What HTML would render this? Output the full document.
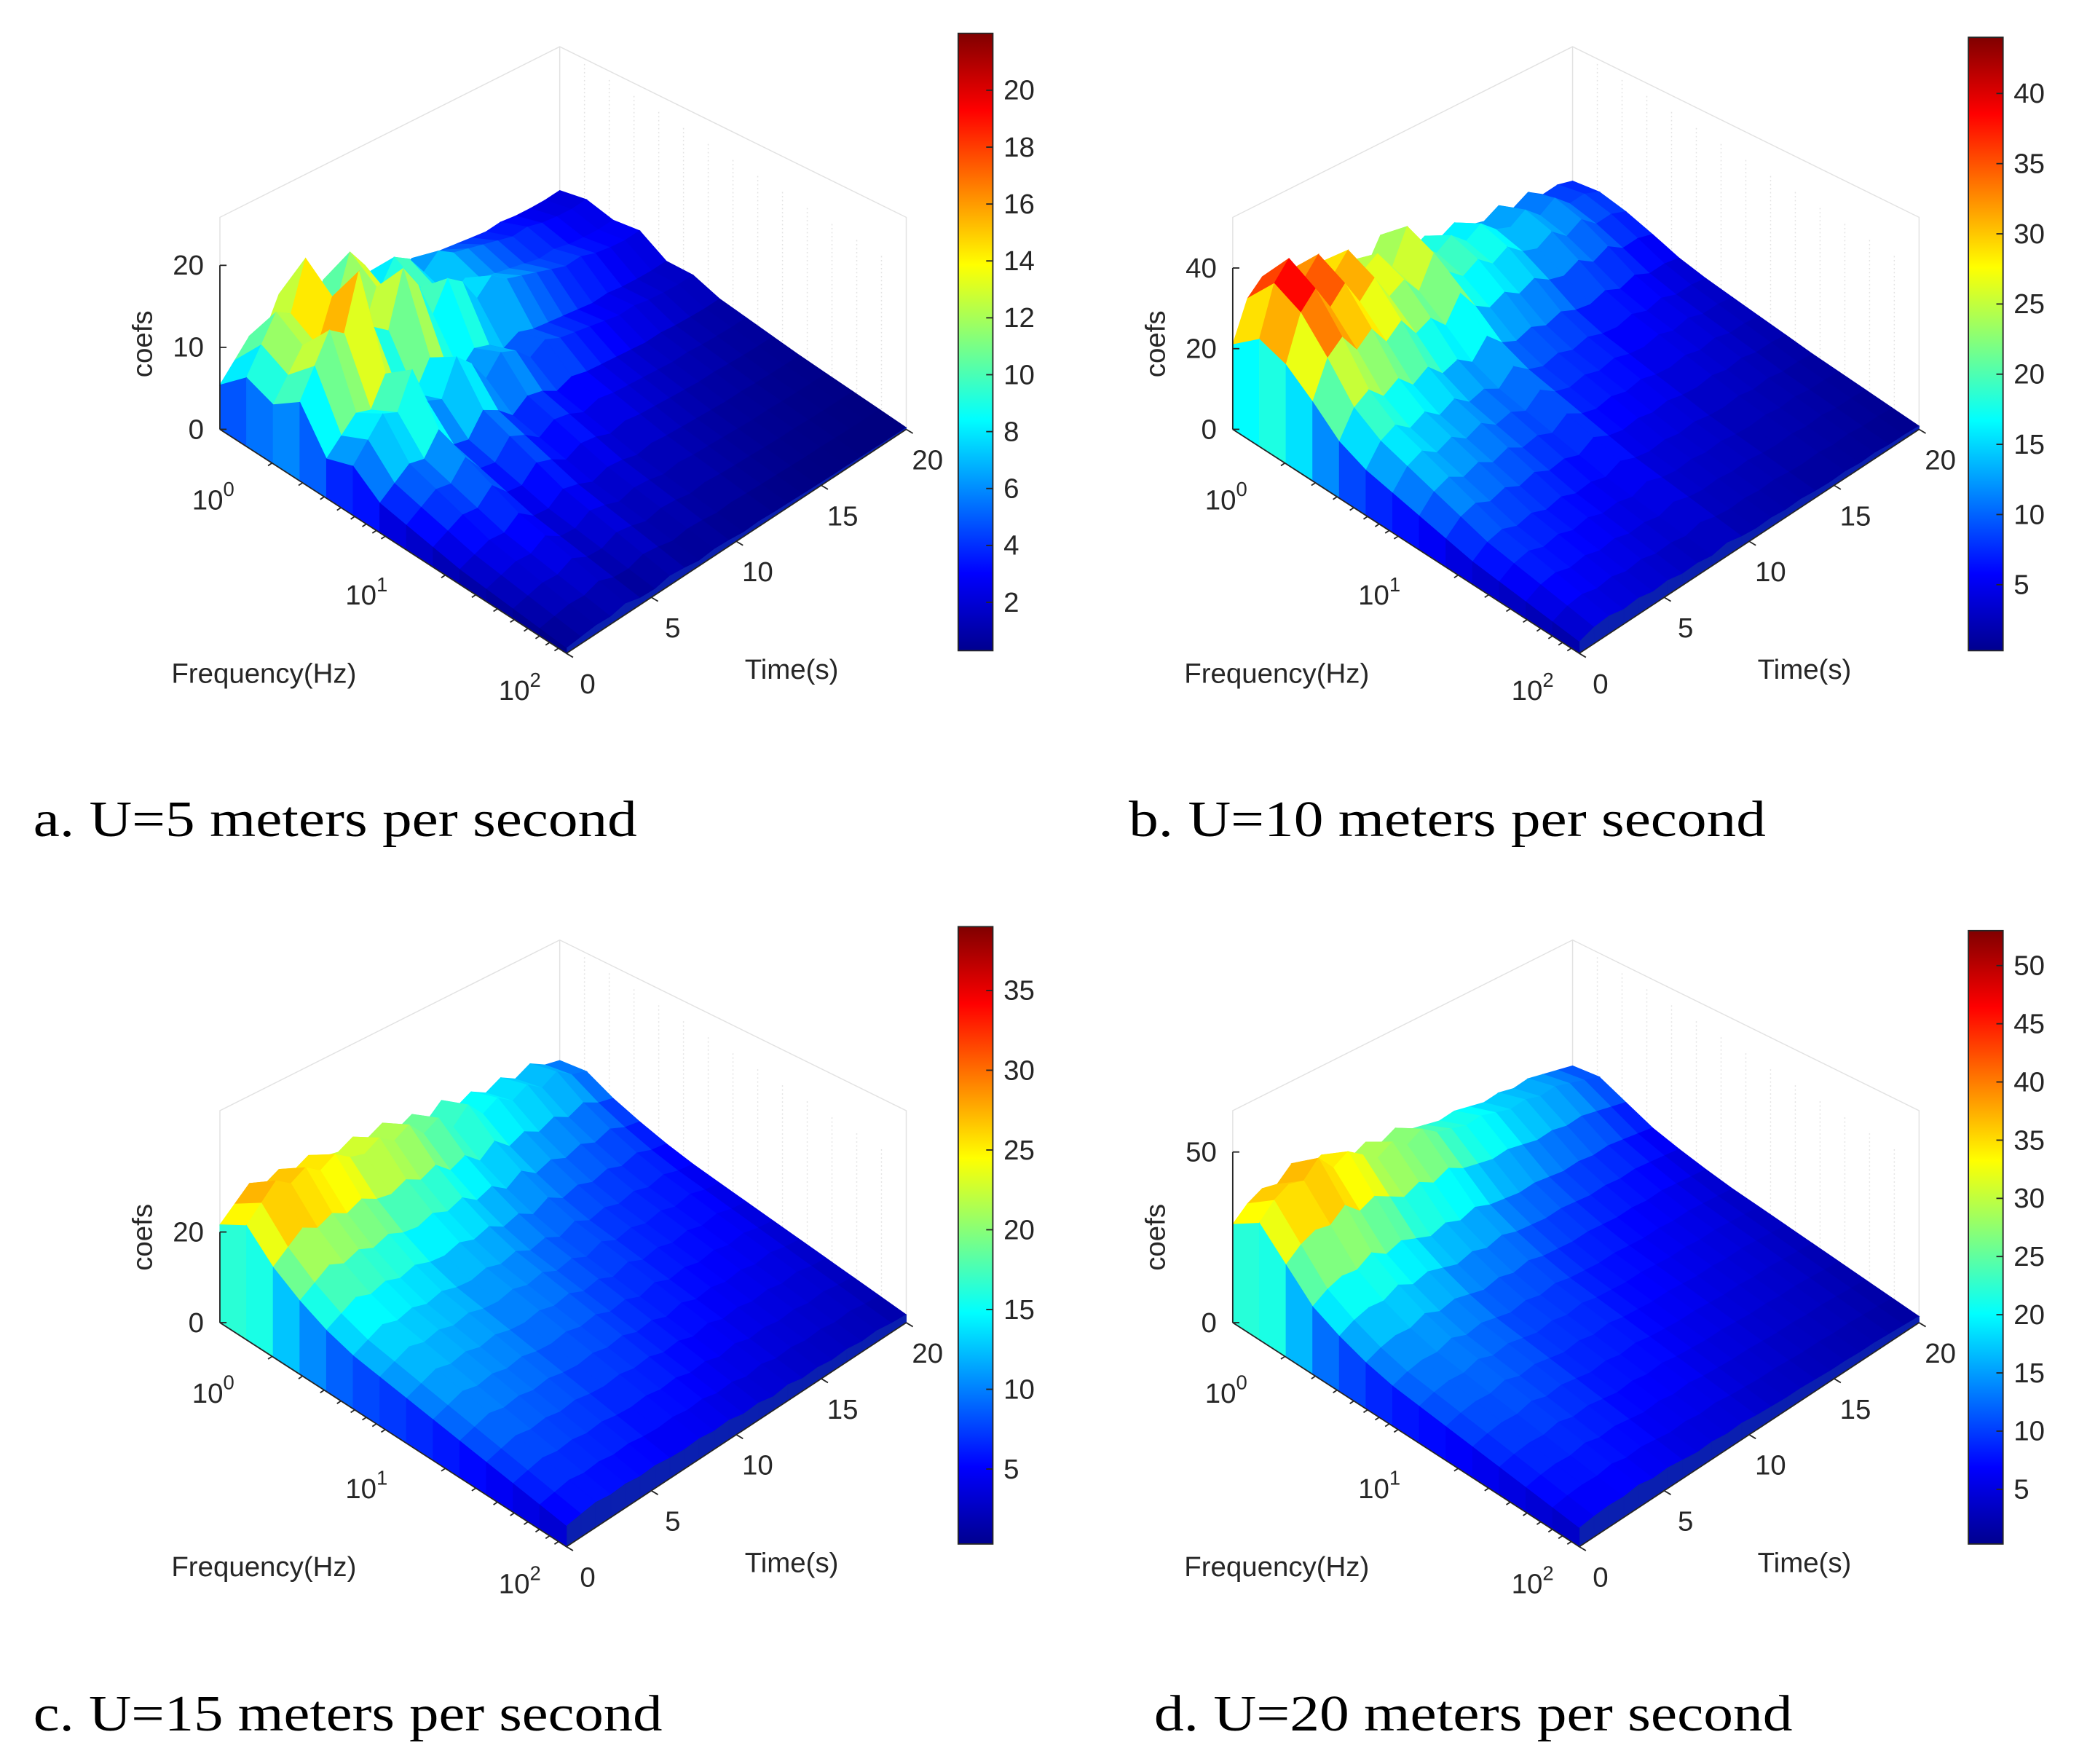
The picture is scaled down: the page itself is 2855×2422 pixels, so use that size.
<!DOCTYPE html>
<html><head><meta charset="utf-8"><style>
html,body{margin:0;padding:0;background:#fff;}
svg{display:block;}
</style></head><body>
<svg id="fig" xmlns="http://www.w3.org/2000/svg" width="2855" height="2422" viewBox="0 0 1560 1323" preserveAspectRatio="none">
<rect width="1560" height="1323" fill="#fff"/>
<defs>
<linearGradient id="jet" x1="0" y1="1" x2="0" y2="0">
<stop offset="0" stop-color="#00008f"/><stop offset="0.125" stop-color="#0000ff"/><stop offset="0.375" stop-color="#00ffff"/><stop offset="0.625" stop-color="#ffff00"/><stop offset="0.875" stop-color="#ff0000"/><stop offset="1" stop-color="#800000"/>
</linearGradient>
</defs>
<g id="panels"></g>
<text x="25" y="627" font-family="Liberation Serif, serif" font-size="38" textLength="453" lengthAdjust="spacingAndGlyphs">a. U=5 meters per second</text>
<text x="847" y="627" font-family="Liberation Serif, serif" font-size="38" textLength="478" lengthAdjust="spacingAndGlyphs">b. U=10 meters per second</text>
<text x="25" y="1298" font-family="Liberation Serif, serif" font-size="38" textLength="472" lengthAdjust="spacingAndGlyphs">c. U=15 meters per second</text>
<text x="866" y="1298" font-family="Liberation Serif, serif" font-size="38" textLength="479" lengthAdjust="spacingAndGlyphs">d. U=20 meters per second</text>
</svg>
<script>
const freqA=[9,14,12,16,8,10,6,5,4,3,2.5,2,1.5,1];
const timeA=[0.6,0.8,1.0,0.9,1.3,0.8,0.7,1.1,0.9,0.6,0.8,0.7,0.5,0.6,0.5,0.45,0.4,0.35,0.3,0.3,0.25,0.22,0.2,0.2];
const freqB=[30,38,35,28,20,16,14,12,10,8,7,6,5,4];
const timeB=[0.7,1.0,1.1,0.9,1.0,0.8,0.9,0.7,0.75,0.6,0.8,0.6,0.5,0.55,0.45,0.5,0.4,0.35,0.4,0.3,0.35,0.25,0.25,0.2];
const freqC=[24,28,22,18,15,13,12,11,10,9,8,7,6,5];
const timeC=[0.9,1.0,1.1,1.0,1.05,0.95,1.0,0.9,0.85,0.9,0.8,0.85,0.7,0.75,0.6,0.7,0.55,0.6,0.5,0.55,0.45,0.5,0.4,0.35];
const freqD=[32,38,30,22,18,15,13,12,11,10,9,8,7,6];
const timeD=[0.9,1.0,1.05,1.0,1.1,0.95,1.0,0.9,0.8,0.85,0.75,0.8,0.7,0.65,0.6,0.6,0.55,0.5,0.5,0.45,0.45,0.4,0.35,0.3];
const zTicksA=[0,10,20], zTicksB=[0,20,40], zTicksC=[0,20], zTicksD=[0,50];
const cbTicksA=[2,4,6,8,10,12,14,16,18,20];
const cbTicksB=[5,10,15,20,25,30,35,40];
const cbTicksC=[5,10,15,20,25,30,35];
const cbTicksD=[5,10,15,20,25,30,35,40,45,50];
const timeTicks=[0,5,10,15,20];

const panels=[
 {id:'a',dx:0,dy:0,freq:freqA,time:timeA,zmax:20,zpx:123,cmin:0.3,cmax:22,zt:zTicksA,cb:cbTicksA,cbx:719,cbTop:25,cbBot:488},
 {id:'b',dx:760,dy:0,freq:freqB,time:timeB,zmax:40,zpx:121,cmin:0.3,cmax:44,zt:zTicksB,cb:cbTicksB,cbx:1477,cbTop:28,cbBot:488},
 {id:'c',dx:0,dy:670,freq:freqC,time:timeC,zmax:20,zpx:68,cmin:0.3,cmax:39,zt:zTicksC,cb:cbTicksC,cbx:719,cbTop:695,cbBot:1158},
 {id:'d',dx:760,dy:670,freq:freqD,time:timeD,zmax:50,zpx:128,cmin:0.3,cmax:53,zt:zTicksD,cb:cbTicksD,cbx:1477,cbTop:698,cbBot:1158}
];
const NS='http://www.w3.org/2000/svg';
const root=document.getElementById('panels');
function mk(tag,attrs,parent){const e=document.createElementNS(NS,tag);for(const k in attrs)e.setAttribute(k,attrs[k]);parent.appendChild(e);return e;}
function jet(t){t=Math.max(0,Math.min(1,t));
 const r=Math.max(0,Math.min(1,1.5-Math.abs(4*t-3))),g=Math.max(0,Math.min(1,1.5-Math.abs(4*t-2))),b=Math.max(0,Math.min(1,1.5-Math.abs(4*t-1)));
 return 'rgb('+Math.round(r*255)+','+Math.round(g*255)+','+Math.round(b*255)+')';}

panels.forEach(p=>{
 const g=mk('g',{transform:'translate('+p.dx+','+p.dy+')'},root);
 
 
 const L=[165,322], RF=[255,-168], FL=[260,168];
 const zs=p.zpx/p.zmax;
 const proj=(u,v,w)=>[L[0]+u*RF[0]+v*FL[0], L[1]+u*RF[1]+v*FL[1]-w*zs];
 const top=119;
 const B=proj(1,0,0), R=proj(1,1,0);
 const grid=mk('g',{stroke:'#e2e2e2','stroke-width':0.8,fill:'none'},g);
 
 
 mk('path',{d:`M${L[0]},${L[1]}V${L[1]-top-40}L${B[0]},${B[1]-top}L${R[0]},${R[1]-top-40}V${R[1]} M${B[0]},${B[1]}V${B[1]-top} M${L[0]},${L[1]}L${B[0]},${B[1]}L${R[0]},${R[1]}`},grid);
 for(let k=1;k<14;k++){const q=proj(1,k/14,0);mk('line',{x1:q[0],y1:q[1],x2:q[0],y2:q[1]-top,'stroke-dasharray':'1,2'},grid);}
 const nf=p.freq.length, nt=p.time.length;
 const z=(i,j)=>p.freq[i]*p.time[j];
 const cells=[];
 for(let i=0;i<nf-1;i++)for(let j=0;j<nt-1;j++)cells.push([i,j]);
 cells.sort((a,b)=>((a[0]/(nf-1))-(a[1]/(nt-1)))-((b[0]/(nf-1))-(b[1]/(nt-1))));
 const surf=mk('g',{},g);
 
 
 cells.forEach(([i,j])=>{
  const pts=[[j,i],[j+1,i],[j+1,i+1],[j,i+1]].map(([jj,ii])=>proj(jj/(nt-1),ii/(nf-1),z(ii,jj)));
  const avg=(z(i,j)+z(i+1,j)+z(i,j+1)+z(i+1,j+1))/4;
  const c=jet((avg-p.cmin)/(p.cmax-p.cmin));
  const poly=mk('polygon',{points:pts.map(q=>q[0].toFixed(1)+','+q[1].toFixed(1)).join(' '),fill:c,stroke:c,'stroke-width':0.6},surf);
  
  
 });
 for(let j=0;j<nt-1;j++){const a1=proj(j/(nt-1),1,z(nf-1,j)),a2=proj((j+1)/(nt-1),1,z(nf-1,j+1)),b2=proj((j+1)/(nt-1),1,0),b1=proj(j/(nt-1),1,0);
  const w=mk('polygon',{points:[a1,a2,b2,b1].map(q=>q.join(',')).join(' '),fill:'#0a1fb0',stroke:'#0a1fb0','stroke-width':0.5},surf);
  }
 for(let i=0;i<nf-1;i++){const a1=proj(0,i/(nf-1),z(i,0)),a2=proj(0,(i+1)/(nf-1),z(i+1,0)),b2=proj(0,(i+1)/(nf-1),0),b1=proj(0,i/(nf-1),0);
  const c=jet(((z(i,0)+z(i+1,0))/2*0.7-p.cmin)/(p.cmax-p.cmin));
  const w=mk('polygon',{points:[a1,a2,b2,b1].map(q=>q.join(',')).join(' '),fill:c,stroke:c,'stroke-width':0.5},surf);
  }
 const ax=mk('g',{stroke:'#262626','stroke-width':1,fill:'none'},g);
 
 
 const F=proj(0,1,0), Rr=proj(1,1,0);
 mk('path',{d:`M${L[0]},${L[1]}L${F[0]},${F[1]}L${Rr[0]},${Rr[1]} M${L[0]},${L[1]}V${L[1]-p.zt[p.zt.length-1]*zs}`},ax);
 const T={'font-family':'Liberation Sans, sans-serif','font-size':21,fill:'#262626'};
 p.zt.forEach(v=>{const y=L[1]-v*zs;mk('line',{x1:L[0],y1:y,x2:L[0]+5,y2:y},ax);
  const t=mk('text',Object.assign({x:L[0]-12,y:y+7,'text-anchor':'end'},T),g);t.textContent=v;
  });
 timeTicks.forEach(v=>{const q=proj(v/20,1,0);mk('line',{x1:q[0],y1:q[1],x2:q[0]+5,y2:q[1]+3},ax);
  const t=mk('text',Object.assign({x:q[0]+16,y:q[1]+30,'text-anchor':'middle'},T),g);t.textContent=v;
  });
 [0,1,2].forEach(k=>{const q=proj(0,k/2,0);
  for(let m=2;m<10&&k<2;m++){const qq=proj(0,(k+Math.log10(m))/2,0);mk('line',{x1:qq[0],y1:qq[1],x2:qq[0]-3,y2:qq[1]+2},ax);}
  const t=mk('text',Object.assign({x:q[0]-5-15*k,y:q[1]+60-12.5*k,'text-anchor':'middle'},T),g);
  
  t.textContent='10';const s=mk('tspan',{dy:-10,'font-size':15},t);s.textContent=k;});
 let t=mk('text',Object.assign({x:198,y:512,'text-anchor':'middle'},T),g);t.textContent='Frequency(Hz)';
 
 t=mk('text',Object.assign({x:594,y:509,'text-anchor':'middle'},T),g);t.textContent='Time(s)';
 
 t=mk('text',Object.assign({x:0,y:0,'text-anchor':'middle',transform:'translate(114,258) rotate(-90)'},T),g);t.textContent='coefs';
 
 const cg=mk('g',{},root);
 
 
 mk('rect',{x:p.cbx,y:p.cbTop,width:26,height:p.cbBot-p.cbTop,fill:'url(#jet)',stroke:'#262626','stroke-width':1},cg);
 p.cb.forEach(v=>{const y=p.cbBot-(v-p.cmin)/(p.cmax-p.cmin)*(p.cbBot-p.cbTop);
  mk('line',{x1:p.cbx+21,y1:y,x2:p.cbx+26,y2:y,stroke:'#262626'},cg);
  const tt=mk('text',Object.assign({},T,{x:p.cbx+34,y:y+7}),cg);tt.textContent=v;
  });
});
</script>
</body></html>
